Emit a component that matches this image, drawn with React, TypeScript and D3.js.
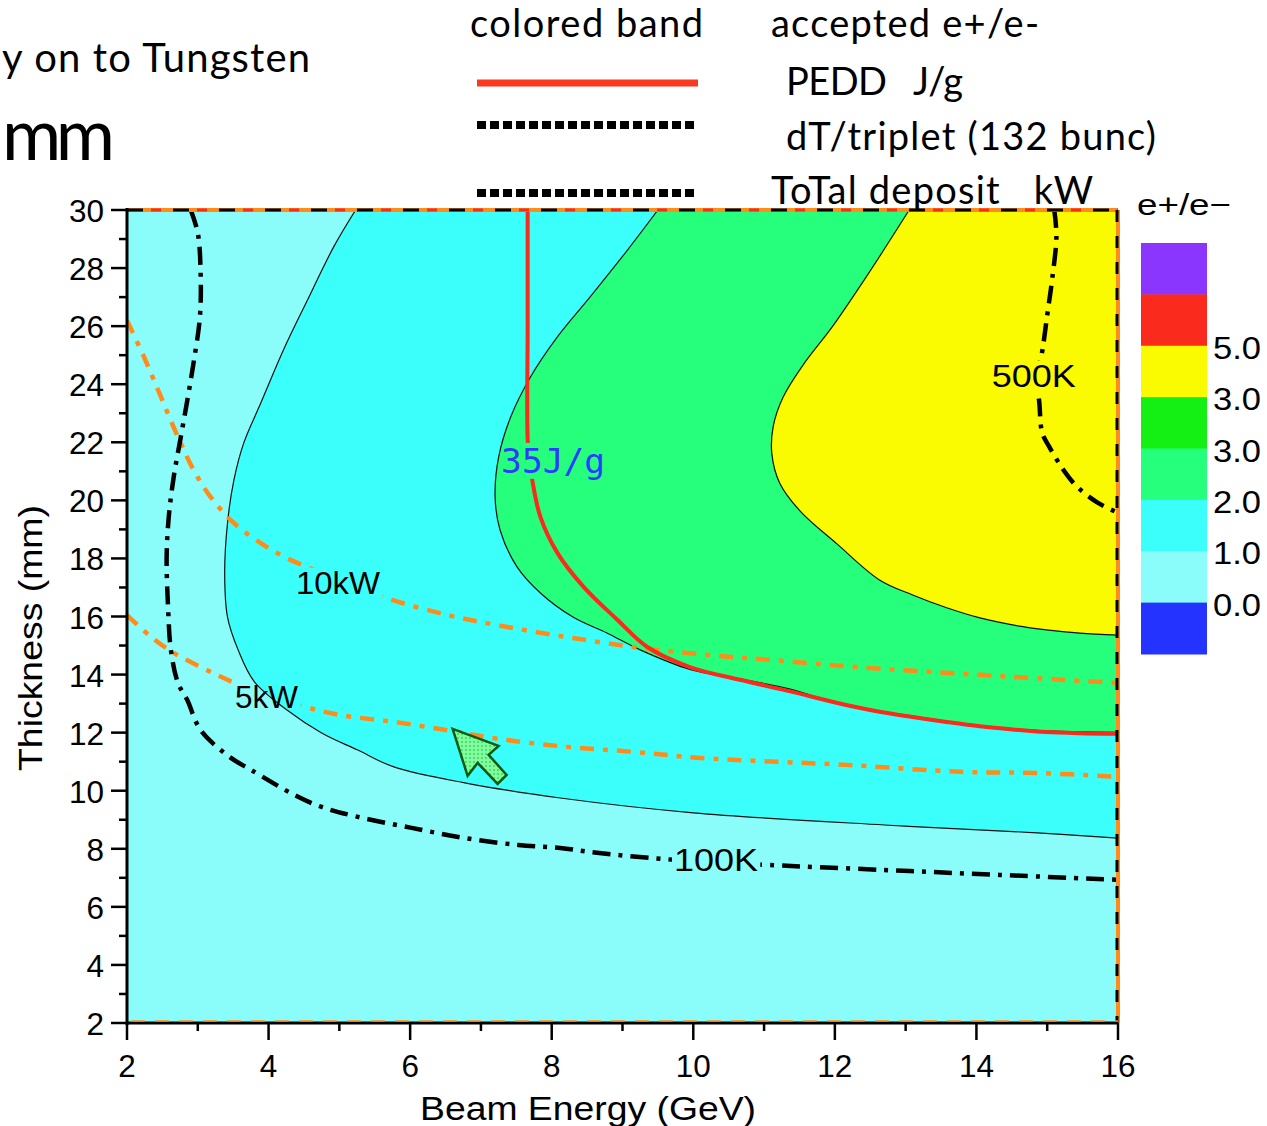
import React, { useEffect, useRef } from "react";
import * as d3 from "d3";

type Pt = [number, number]; // [beam energy (GeV), thickness (mm)]

// axis ticks
const xMajor = [2, 4, 6, 8, 10, 12, 14, 16];
const xMinor = [3, 5, 7, 9, 11, 13, 15];
const yMajor = [2, 4, 6, 8, 10, 12, 14, 16, 18, 20, 22, 24, 26, 28, 30];
const yMinor = [3, 5, 7, 9, 11, 13, 15, 17, 19, 21, 23, 25, 27, 29];

// colored band edges (accepted e+/e-)
const band1Edge: Pt[] = [
  [5.23, 30], [4.92, 28.73], [4.55, 26.9], [4.21, 25.18], [3.89, 23.35], [3.65, 21.98],
  [3.51, 20.7], [3.42, 19.22], [3.38, 17.5], [3.42, 15.98], [3.57, 14.85], [3.8, 13.75],
  [4.26, 12.78], [4.75, 11.99], [5.26, 11.4], [5.77, 10.82], [6.77, 10.27], [8.12, 9.75],
  [10.0, 9.24], [12.7, 8.82], [14.86, 8.55], [16, 8.37],
];
const band2Edge: Pt[] = [
  [9.5, 30], [9.07, 28.62], [8.54, 27.0], [8.08, 25.63], [7.7, 24.25], [7.42, 22.87],
  [7.25, 21.49], [7.2, 20.12], [7.27, 18.98], [7.51, 17.71], [7.84, 16.81], [8.3, 15.98],
  [8.78, 15.43], [9.25, 14.85], [9.95, 14.18], [10.66, 13.85], [11.37, 13.5], [12.16, 12.92],
  [13.1, 12.57], [14.05, 12.24], [14.99, 12.06], [16, 12.01],
];
const band3Edge: Pt[] = [
  [13.05, 30], [12.49, 27.87], [11.97, 26.0], [11.55, 24.66], [11.27, 23.56], [11.13, 22.56],
  [11.11, 21.6], [11.22, 20.6], [11.51, 19.63], [12.03, 18.5], [12.63, 17.26], [13.1, 16.74],
  [13.58, 16.3], [14.05, 15.95], [14.51, 15.71], [14.99, 15.54], [15.46, 15.43], [16, 15.36],
];

// contour lines
const pedd35: Pt[] = [
  [7.66, 30], [7.66, 26], [7.66, 22.1], [7.69, 21.3], [7.73, 20.63], [7.84, 19.43],
  [8.08, 18.19], [8.45, 17.02], [8.93, 15.88], [9.35, 14.95], [9.95, 14.26], [10.66, 13.82],
  [11.37, 13.42], [12.16, 12.95], [12.63, 12.72], [13.1, 12.54], [13.58, 12.37], [14.05, 12.22],
  [14.51, 12.11], [14.99, 12.02], [15.46, 11.98], [16, 11.96],
];
const dT100K: Pt[] = [
  [2.9, 30], [3.0, 29.21], [3.04, 27.83], [3.03, 26.32], [2.94, 24.73], [2.86, 23.56],
  [2.76, 22.18], [2.66, 20.81], [2.59, 19.43], [2.56, 18.05], [2.58, 16.33], [2.62, 14.85],
  [2.72, 13.71], [2.85, 13.13], [3.04, 12.09], [3.45, 11.16], [3.75, 10.72], [4.36, 9.86],
  [4.75, 9.44], [5.26, 9.1], [6.02, 8.72], [6.77, 8.37], [7.53, 8.13], [8.12, 8.03],
  [8.64, 7.86], [9.73, 7.62], [10.32, 7.53], [11.08, 7.44], [12.7, 7.27], [14.33, 7.1], [16, 6.93],
];
const dT500K: Pt[] = [
  [15.1, 30], [15.13, 29.1], [15.07, 27.62], [15.0, 26.38], [14.93, 25.14], [14.86, 24.3],
  [14.89, 23.32], [14.93, 22.32], [15.03, 21.84], [15.22, 21.08], [15.41, 20.5], [15.7, 19.94],
  [16, 19.57],
];
const power10kW: Pt[] = [
  [2.0, 26.2], [2.24, 24.94], [2.48, 23.56], [2.72, 22.18], [2.94, 21.05], [3.18, 20.12],
  [3.51, 19.22], [3.89, 18.53], [4.31, 17.95], [4.98, 17.3], [5.62, 16.67], [6.53, 16.05],
  [7.37, 15.64], [8.3, 15.26], [9.25, 14.92], [10.19, 14.68], [11.13, 14.5], [12.31, 14.26],
  [14.05, 13.99], [16, 13.71],
];
const power5kW: Pt[] = [
  [2.0, 16.05], [2.34, 15.3], [2.66, 14.75], [3.04, 14.26], [3.42, 13.82], [3.96, 13.25],
  [4.51, 12.89], [5.0, 12.61], [5.77, 12.37], [6.51, 12.09], [7.27, 11.78], [8.22, 11.51],
  [9.15, 11.34], [10.1, 11.13], [12.16, 10.89], [13.78, 10.65], [14.86, 10.61], [16, 10.48],
];

const contourLabels = [
  { text: "10kW", e: 4.98, t: 17.15 },
  { text: "5kW", e: 3.97, t: 13.22 },
  { text: "100K", e: 10.32, t: 7.58 },
  { text: "500K", e: 14.81, t: 24.28 },
  { text: "35J/g", e: 8.02, t: 21.36 },
];

const arrowTip: Pt = [6.6, 12.13];

// color bar
const barLabels = ["5.0", "3.0", "3.0", "2.0", "1.0", "0.0"];
const barColors = ["#8a36ff", "#fa2a1c", "#fafa00", "#14f014", "#26ff7b", "#3bfffa", "#8afdfa", "#2433ff"];

const W = 1267;
const H = 1126;
const box = { left: 127, right: 1118, top: 210, bottom: 1023 };

const App = () => {
  const svgRef = useRef<SVGSVGElement>(null);

  useEffect(() => {
    const svg = d3.select(svgRef.current);
    svg.selectAll("*").remove();

    const x = d3.scaleLinear().domain([2, 16]).range([box.left, box.right]);
    const y = d3.scaleLinear().domain([2, 30]).range([box.bottom, box.top]);
    const curve = d3
      .line<Pt>()
      .x((d) => x(d[0]))
      .y((d) => y(d[1]))
      .curve(d3.curveCatmullRom.alpha(0.5));

    const defs = svg.append("defs");
    defs
      .append("clipPath")
      .attr("id", "plotClip")
      .append("rect")
      .attr("x", box.left)
      .attr("y", box.top)
      .attr("width", box.right - box.left)
      .attr("height", box.bottom - box.top);
    const mask = defs
      .append("mask")
      .attr("id", "labelGaps")
      .attr("maskUnits", "userSpaceOnUse")
      .attr("x", 0)
      .attr("y", 0)
      .attr("width", W)
      .attr("height", H);
    mask.append("rect").attr("width", W).attr("height", H).attr("fill", "white");

    const pat = defs
      .append("pattern")
      .attr("id", "dots")
      .attr("patternUnits", "userSpaceOnUse")
      .attr("width", 4)
      .attr("height", 4);
    pat.append("rect").attr("width", 4).attr("height", 4).attr("fill", "#7dff9c");
    pat.append("circle").attr("cx", 2).attr("cy", 2).attr("r", 0.8).attr("fill", "#2aa84a");

    // ---- header text
    const headFont = "Lato, 'Open Sans', sans-serif";
    const head = svg.append("g").style("font-family", headFont).attr("fill", "#000");
    const headText = (tx: number, ty: number, size: number, len: number, s: string) =>
      head.append("text").attr("x", tx).attr("y", ty).attr("font-size", size)
        .style("white-space", "pre").attr("textLength", len).text(s);
    headText(2, 72, 40, 308, "y on to Tungsten");
    headText(2, 160, 72, 113, "mm");
    headText(470, 37, 38, 233, "colored band");
    headText(771, 37, 38, 268, "accepted e+/e-");
    headText(786, 95, 38, 177, "PEDD   J/g");
    headText(786, 150, 38, 370, "dT/triplet (132 bunc)");

    svg.append("line").attr("x1", 477).attr("x2", 698).attr("y1", 83).attr("y2", 83)
      .attr("stroke", "#fa3a1e").attr("stroke-width", 7);
    [125, 193].forEach((yy) =>
      svg.append("line").attr("x1", 477).attr("x2", 698).attr("y1", yy).attr("y2", yy)
        .attr("stroke", "#000").attr("stroke-width", 8).attr("stroke-dasharray", "9 4"));

    // ---- colored bands
    const plot = svg.append("g").attr("clip-path", "url(#plotClip)");
    plot.append("rect")
      .attr("x", box.left).attr("y", box.top)
      .attr("width", box.right - box.left).attr("height", box.bottom - box.top)
      .attr("fill", "#8afdfa");
    const closeTop = `L${x(16)},${y(30)}Z`;
    [
      { edge: band1Edge, fill: "#3bfffa" },
      { edge: band2Edge, fill: "#26ff7b" },
      { edge: band3Edge, fill: "#fafa00" },
    ].forEach((b) => {
      plot.append("path").attr("d", curve(b.edge) + closeTop).attr("fill", b.fill);
      plot.append("path").attr("d", curve(b.edge)).attr("fill", "none")
        .attr("stroke", "#111").attr("stroke-width", 1.2);
    });

    // ---- contour lines (gapped at labels)
    const lines = plot.append("g").attr("mask", "url(#labelGaps)").attr("fill", "none");
    [
      { pts: power10kW, color: "#ff8c1a", dash: "14 9 5 9", w: 4.5 },
      { pts: power5kW, color: "#ff8c1a", dash: "14 9 5 9", w: 4.5 },
      { pts: dT100K, color: "#000", dash: "18 8 4 8", w: 4.5 },
      { pts: dT500K, color: "#000", dash: "18 8 4 8", w: 4.5 },
      { pts: pedd35, color: "#fa2a1c", dash: null, w: 4 },
    ].forEach((l) => {
      lines.append("path").attr("d", curve(l.pts)).attr("stroke", l.color)
        .attr("stroke-width", l.w).attr("stroke-dasharray", l.dash);
    });

    // ---- contour labels
    contourLabels.forEach((l) => {
      const peddLabel = l.text.includes("J/g");
      const t = svg.append("text")
        .attr("x", x(l.e)).attr("y", y(l.t))
        .attr("text-anchor", "middle").attr("dominant-baseline", "central")
        .attr("font-size", peddLabel ? 34 : 31)
        .style("font-family", peddLabel ? "'DejaVu Sans Mono', monospace" : "'Liberation Sans', Arial, sans-serif")
        .attr("fill", peddLabel ? "#2a3cff" : "#000")
        .attr("textLength", peddLabel ? 104 : l.text.length * 21)
        .attr("lengthAdjust", "spacingAndGlyphs")
        .text(l.text);
      const bb = (t.node() as SVGTextElement).getBBox();
      mask.append("rect").attr("x", bb.x - 2).attr("y", bb.y + 2)
        .attr("width", bb.width + 4).attr("height", bb.height - 4).attr("fill", "black");
    });

    // ---- arrow annotation
    const ax = x(arrowTip[0]);
    const ay = y(arrowTip[1]);
    const arrowShape: Pt[] = [[0, 0], [46, 17], [36, 26], [54, 46], [45, 55], [25, 34], [15, 47]];
    svg.append("polygon")
      .attr("points", arrowShape.map((p) => `${ax + p[0]},${ay + p[1]}`).join(" "))
      .attr("fill", "url(#dots)").attr("stroke", "#0d5a12").attr("stroke-width", 2.5)
      .attr("stroke-linejoin", "miter");

    // ---- frame
    const frame = svg.append("g").attr("fill", "none");
    frame.append("line").attr("x1", box.left).attr("x2", box.right).attr("y1", box.top).attr("y2", box.top)
      .attr("stroke", "#ff8c1a").attr("stroke-width", 4);
    frame.append("line").attr("x1", box.left).attr("x2", box.right).attr("y1", box.top).attr("y2", box.top)
      .attr("stroke", "#000").attr("stroke-width", 3).attr("stroke-dasharray", "16 30");
    frame.append("line").attr("x1", box.left + 24).attr("x2", box.right).attr("y1", box.top).attr("y2", box.top)
      .attr("stroke", "#fa2a1c").attr("stroke-width", 3).attr("stroke-dasharray", "10 36");
    frame.append("line").attr("x1", box.right).attr("x2", box.right).attr("y1", box.top).attr("y2", box.bottom)
      .attr("stroke", "#ff8c1a").attr("stroke-width", 4);
    frame.append("line").attr("x1", box.right - 1).attr("x2", box.right - 1).attr("y1", box.top).attr("y2", box.bottom)
      .attr("stroke", "#000").attr("stroke-width", 3).attr("stroke-dasharray", "12 14");
    frame.append("line").attr("x1", box.left).attr("x2", box.left).attr("y1", box.top - 2).attr("y2", box.bottom + 2)
      .attr("stroke", "#000").attr("stroke-width", 3);
    frame.append("line").attr("x1", box.left).attr("x2", box.right).attr("y1", box.bottom).attr("y2", box.bottom)
      .attr("stroke", "#000").attr("stroke-width", 3);
    frame.append("line").attr("x1", box.left + 4).attr("x2", box.right).attr("y1", box.bottom - 2).attr("y2", box.bottom - 2)
      .attr("stroke", "#ff8c1a").attr("stroke-width", 1.5).attr("stroke-dasharray", "14 10");

    // ---- axes
    const axes = svg.append("g").attr("stroke", "#000").attr("stroke-width", 2.5);
    xMajor.forEach((v) => axes.append("line").attr("x1", x(v)).attr("x2", x(v)).attr("y1", box.bottom).attr("y2", box.bottom + 17));
    xMinor.forEach((v) => axes.append("line").attr("x1", x(v)).attr("x2", x(v)).attr("y1", box.bottom).attr("y2", box.bottom + 8));
    yMajor.forEach((v) => axes.append("line").attr("y1", y(v)).attr("y2", y(v)).attr("x1", box.left).attr("x2", box.left - 16));
    yMinor.forEach((v) => axes.append("line").attr("y1", y(v)).attr("y2", y(v)).attr("x1", box.left).attr("x2", box.left - 8));

    const tickFont = "'Liberation Sans', Arial, sans-serif";
    xMajor.forEach((v) =>
      svg.append("text").attr("x", x(v)).attr("y", 1077).attr("text-anchor", "middle")
        .attr("font-size", 32).style("font-family", tickFont).attr("fill", "#000")
        .attr("textLength", String(v).length * 17.5).attr("lengthAdjust", "spacingAndGlyphs").text(v));
    yMajor.forEach((v) =>
      svg.append("text").attr("x", 104).attr("y", y(v) + 1).attr("text-anchor", "end")
        .attr("dominant-baseline", "central")
        .attr("font-size", 32).style("font-family", tickFont).attr("fill", "#000")
        .attr("textLength", String(v).length * 17.5).attr("lengthAdjust", "spacingAndGlyphs").text(v));

    svg.append("text").attr("x", 588).attr("y", 1120).attr("text-anchor", "middle")
      .attr("font-size", 34).style("font-family", tickFont).attr("textLength", 336)
      .attr("lengthAdjust", "spacingAndGlyphs").text("Beam Energy (GeV)");
    svg.append("text").attr("transform", "translate(42,638) rotate(-90)").attr("text-anchor", "middle")
      .attr("font-size", 34).style("font-family", tickFont).attr("textLength", 266)
      .attr("lengthAdjust", "spacingAndGlyphs").text("Thickness (mm)");

    // ---- color bar
    const bar = d3.scaleBand<number>().domain(d3.range(barColors.length)).range([243, 654]);
    barColors.forEach((c, i) =>
      svg.append("rect").attr("x", 1141).attr("y", bar(i)!).attr("width", 66)
        .attr("height", bar.bandwidth() + 0.5).attr("fill", c));
    barLabels.forEach((lab, i) =>
      svg.append("text").attr("x", 1213).attr("y", bar(i + 2)! + 2).attr("dominant-baseline", "central")
        .attr("font-size", 32).style("font-family", tickFont).attr("textLength", 48)
        .attr("lengthAdjust", "spacingAndGlyphs").text(lab));
    svg.append("text").attr("x", 1137).attr("y", 215).attr("font-size", 30)
      .style("font-family", tickFont).attr("textLength", 94)
      .attr("lengthAdjust", "spacingAndGlyphs").text("e+/e\u2212");

    // last header line overlaps the plot top
    svg.append("text").attr("x", 771).attr("y", 204).attr("font-size", 38).style("white-space", "pre")
      .style("font-family", headFont)
      .attr("textLength", 322).text("ToTal deposit   kW");
  }, []);

  return (
    <svg
      ref={svgRef}
      width={W}
      height={H}
      style={{ position: "absolute", left: 0, top: 0, background: "#fff" }}
    ></svg>
  );
};

export default App;
